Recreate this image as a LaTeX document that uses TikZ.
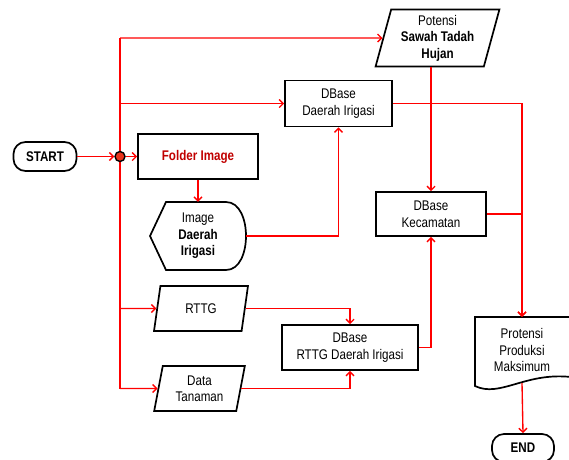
\documentclass[tikz,border=0pt]{standalone}
\usepackage{fontspec}
\setmainfont{Liberation Sans}[FakeStretch=0.83]
\usetikzlibrary{arrows.meta,shapes.geometric}
\definecolor{folderred}{HTML}{C00000}
\definecolor{dotfill}{HTML}{E8341C}
\begin{document}
\begin{tikzpicture}[x=1pt,y=-1pt,
  every node/.style={font=\fontsize{14}{16.5}\selectfont},
  box/.style={draw, line width=1.7pt, rectangle, align=center, inner sep=0pt},
  term/.style={draw, line width=1.7pt, rectangle, rounded corners=12pt, align=center, inner sep=0pt},
  para/.style={draw, line width=1.7pt, trapezium, trapezium left angle=#1, trapezium right angle=180-#1,
     trapezium stretches=true, align=center, inner sep=0pt},
  flow/.style={red, line width=1.35pt},
  arr/.style={flow, -{Straight Barb[length=4pt,width=8pt]}}]
\useasboundingbox (0,0) rectangle (569,459);
\clip (0,0) rectangle (569,459);

% nodes
\node[term, minimum width=63pt, minimum height=29pt] (start) at (45,156.5) {\bfseries START};
\node[box, minimum width=120pt, minimum height=45pt, text=folderred] (folder) at (198,156.5) {\bfseries Folder Image};
\node[minimum width=96pt, minimum height=68pt, inner sep=0pt, align=center] (image) at (198,236) {Image\\\textbf{Daerah}\\\textbf{Irigasi}};
\draw[line width=1.7pt] (150,236) -- (166,202) -- (226,202)
   .. controls (240,202) and (246,220) .. (246,236)
   .. controls (246,252) and (240,270) .. (226,270) -- (166,270) -- cycle;
\node[para=75, minimum width=125pt, minimum height=57pt] (pot) at (437.5,38) {Potensi\\\textbf{Sawah Tadah}\\\textbf{Hujan}};
\node[box, minimum width=107pt, minimum height=46pt] (dbdi) at (338.5,103.5) {DBase\\Daerah Irigasi};
\node[box, minimum width=110pt, minimum height=44pt] (kec) at (431,214) {DBase\\Kecamatan};
\node[para=76, minimum width=94pt, minimum height=45pt] (rttg) at (201,308.5) {RTTG};
\node[para=78, minimum width=91pt, minimum height=45pt] (data) at (199.5,388.5) {Data\\Tanaman};
\node[box, minimum width=136pt, minimum height=45pt] (rtdb) at (350,347.5) {DBase\\RTTG Daerah Irigasi};
\node[minimum width=94pt, minimum height=66pt, inner sep=0pt, align=center] (doc) at (522,350) {Protensi\\Produksi\\Maksimum};
\draw[line width=1.7pt] (571,377) -- (571,317) -- (475,317) -- (475,386)
   .. controls (500,398) and (525,372) .. (571,377);
\node[term, minimum width=62pt, minimum height=28pt] (end) at (523,448) {\bfseries END};

% junction coordinates
\coordinate (j1) at (120,38);
\coordinate (j2) at (120,103.5);
\coordinate (j4) at (120,308.5);
\coordinate (j5) at (120,388.5);

% connectors
\draw[flow] (j1) -- (j5);
\draw[arr] (j1) -- (pot.west);
\draw[arr] (j2) -- (dbdi.west);
\draw[arr] (j4) -- (rttg.west);
\draw[arr] (j5) -- (data.west);
\node[circle, draw, line width=1.4pt, fill=dotfill, minimum size=10pt, inner sep=0pt] (dot) at (120,156.5) {};
\draw[arr] (start.east) -- (dot.west);
\draw[arr] (dot.east) -- (folder.west);
\draw[arr] (folder.south) -- (image.north);
\draw[arr] (image.east) -| (dbdi.south);
\draw[arr] (pot.south -| kec.north) -- (kec.north);
\draw[arr] (dbdi.east) -| (doc.north);
\draw[arr] (kec.east) -| (doc.north);
\draw[arr] (rttg.east) -| (rtdb.north);
\draw[arr] (data.east) -| (rtdb.south);
\draw[arr] (rtdb.east) -| (kec.south);
\draw[arr] (doc.south) -- (end.north);
\end{tikzpicture}
\end{document}
